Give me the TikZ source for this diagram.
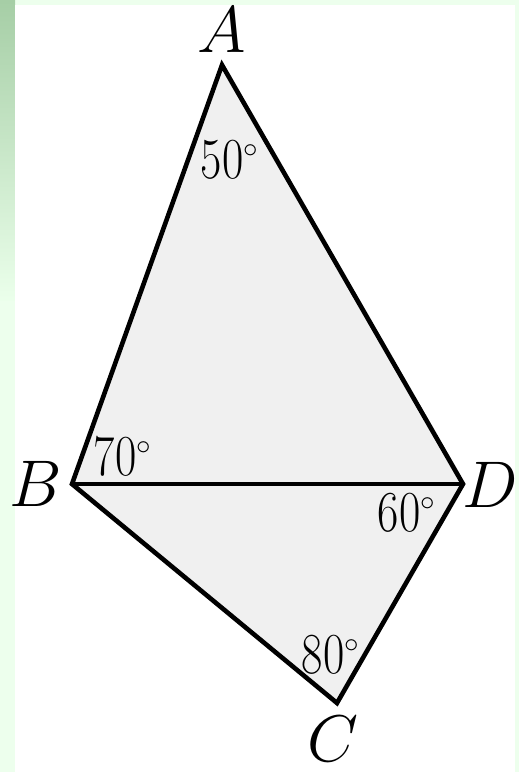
\RequirePackage{fix-cm}
\documentclass[tikz,border=0pt]{standalone}
\usepackage{tikz}
\usepackage{graphicx}
\usetikzlibrary{positioning,backgrounds}
\tikzset{
  edge/.style={line width=2.3pt,line join=miter},
  vlbl/.style={font=\fontsize{33}{40}\selectfont,inner sep=0pt},
  albl/.style={font=\fontsize{29}{34}\selectfont,inner sep=0pt},
  face/.style={fill=black!6},
}
\newcommand{\angtxt}[1]{\scalebox{0.8}[1]{$#1$}$^{\scriptscriptstyle\circ}$}
\begin{document}
\begin{tikzpicture}[x=0.5pt,y=-0.5pt]
  % page and green frame
  \useasboundingbox (0,0) rectangle (519,772);
  \fill[green!7!white] (0,0) rectangle (519,772);
  \shade[top color=green!45!black!35!white,bottom color=green!8!white] (0,0) rectangle (15,300);
  \fill[white] (15,5) rectangle (515,772);
  % vertices
  \coordinate (A) at (222,65);
  \coordinate (B) at (72,484);
  \coordinate (D) at (463,484);
  \coordinate (C) at (337,703);
  \fill[face] (A)--(B)--(C)--(D)--cycle;
  \draw[edge] (A)--(B)--(C)--(D)--cycle;
  \draw[edge] (B)--(D);
  % vertex names
  \node[vlbl] (lA) at (222,30) {$A$};
  \node[vlbl] (lB) at (36,484) {$B$};
  \node[vlbl] (lD) at (490,485) {$D$};
  \node[vlbl] (lC) at (333,739) {$C$};
  % angles
  \node[albl] (aA) at (230,160) {\angtxt{50}};
  \node[albl] (aB) at (123,457) {\angtxt{70}};
  \node[albl] (aD) at (407,513) {\angtxt{60}};
  \node[albl] (aC) at (331,655) {\angtxt{80}};
\end{tikzpicture}
\end{document}
